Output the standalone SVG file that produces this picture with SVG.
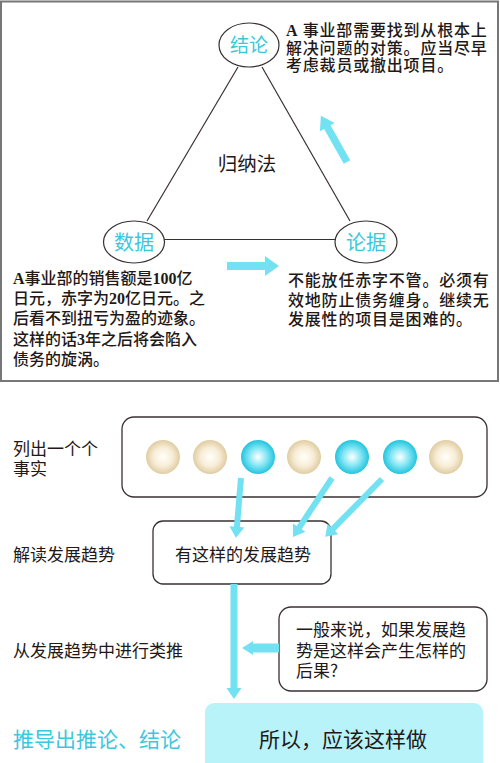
<svg xmlns="http://www.w3.org/2000/svg" width="500" height="763" viewBox="0 0 500 763">
<defs>
<radialGradient id="gBeige" cx="50%" cy="50%" r="50%">
<stop offset="0" stop-color="#fffffa"/>
<stop offset="0.55" stop-color="#f8eed8"/>
<stop offset="1" stop-color="#dfcca2"/>
</radialGradient>
<radialGradient id="gCyan" cx="50%" cy="50%" r="50%">
<stop offset="0" stop-color="#ffffff"/>
<stop offset="0.5" stop-color="#8ae8f6"/>
<stop offset="1" stop-color="#22c4de"/>
</radialGradient>
<style>
.t{font-family:"Noto Sans CJK SC","Noto Sans",sans-serif;fill:#231815}
.d{font-size:16px;font-weight:500}
.lb{font-size:17px}
.cy{fill:#3cc8dc}
.b{font-family:"Liberation Serif",serif;font-weight:bold}
.ell{fill:#fff;stroke:#3a3030;stroke-width:1.2}
.ln{stroke:#3a3030;stroke-width:1.2;fill:none}
.box{fill:#fff;stroke:#3a3030;stroke-width:1.3}
.arr{fill:#72e2f2}
</style>
</defs>
<rect x="1" y="1.5" width="497" height="379.5" fill="#fff" stroke="#777" stroke-width="2"/>

<g id="node-conclusion">
<ellipse class="ell" cx="249" cy="45" rx="30" ry="22"/>
<text class="t cy" x="249" y="52" font-size="19" text-anchor="middle">结论</text>
</g>
<g id="node-data">
<ellipse class="ell" cx="134" cy="242" rx="30.5" ry="21"/>
<text class="t cy" x="134" y="249.5" font-size="20" text-anchor="middle">数据</text>
</g>
<g id="node-argument">
<ellipse class="ell" cx="366" cy="242" rx="31" ry="21"/>
<text class="t cy" x="366" y="249.5" font-size="20" text-anchor="middle">论据</text>
</g>
<g id="label-induction">
<text class="t" x="247" y="171" font-size="19.5" text-anchor="middle">归纳法</text>
</g>
<g id="text-conclusion">
<text class="t d" x="286" letter-spacing="0.8">
<tspan x="286" y="36"><tspan class="b">A</tspan> 事业部需要找到从根本上</tspan>
<tspan x="286" y="53.5">解决问题的对策。应当尽早</tspan>
<tspan x="286" y="71">考虑裁员或撤出项目。</tspan>
</text>
</g>
<g id="text-data">
<text class="t d" x="13">
<tspan x="13" y="284"><tspan class="b">A</tspan>事业部的销售额是<tspan class="b">100</tspan>亿</tspan>
<tspan x="13" y="304.2">日元，赤字为<tspan class="b">20</tspan>亿日元。之</tspan>
<tspan x="13" y="324.4">后看不到扭亏为盈的迹象。</tspan>
<tspan x="13" y="344.6">这样的话<tspan class="b">3</tspan>年之后将会陷入</tspan>
<tspan x="13" y="364.8">债务的旋涡。</tspan>
</text>
</g>
<g id="text-argument">
<text class="t d" x="288" letter-spacing="0.8">
<tspan x="288" y="285.5">不能放任赤字不管。必须有</tspan>
<tspan x="288" y="305.5">效地防止债务缠身。继续无</tspan>
<tspan x="288" y="325">发展性的项目是困难的。</tspan>
</text>
</g>

<g id="label-facts">
<text class="t lb" x="13"><tspan x="13" y="454.5">列出一个个</tspan><tspan x="13" y="475">事实</tspan></text>
</g>
<g id="node-facts">
<rect class="box" x="122" y="417" width="365" height="80" rx="12"/>
<circle cx="163" cy="457" r="17" fill="url(#gBeige)"/>
<circle cx="210" cy="457" r="17" fill="url(#gBeige)"/>
<circle cx="258" cy="457" r="17" fill="url(#gCyan)"/>
<circle cx="304" cy="457" r="17" fill="url(#gBeige)"/>
<circle cx="352" cy="457" r="17" fill="url(#gCyan)"/>
<circle cx="400" cy="457" r="17" fill="url(#gCyan)"/>
<circle cx="446" cy="457" r="17" fill="url(#gBeige)"/>
</g>
<g id="label-trend">
<text class="t lb" x="13" y="560.5">解读发展趋势</text>
</g>
<g id="node-trend">
<rect class="box" x="153" y="521" width="178" height="63" rx="10"/>
<text class="t lb" x="243" y="560.5" text-anchor="middle">有这样的发展趋势</text>
</g>
<g id="label-analogy">
<text class="t lb" x="13" y="656.5">从发展趋势中进行类推</text>
</g>
<g id="node-question">
<rect class="box" x="279" y="607" width="208" height="84" rx="12"/>
<text class="t lb" x="296"><tspan x="296" y="636">一般来说，如果发展趋</tspan><tspan x="296" y="657">势是这样会产生怎样的</tspan><tspan x="296" y="677">后果?</tspan></text>
</g>
<g id="label-result">
<text class="t cy" x="13" y="746.5" font-size="21">推导出推论、结论</text>
</g>
<g id="node-result">
<rect x="205" y="703" width="278" height="80" rx="9" fill="#b8f3fa"/>
<text class="t" x="343" y="746.5" font-size="21" text-anchor="middle">所以，应该这样做</text>
</g>

<g id="connectors">
<line class="ln" x1="238" y1="67" x2="147" y2="221"/>
<line class="ln" x1="262" y1="67" x2="350" y2="221"/>
<line class="ln" x1="164" y1="239.5" x2="335" y2="239.5"/>
<polygon class="arr" points="227,262 265,262 265,256 279,266 265,276 265,270 227,270"/>
<g transform="translate(347,162) rotate(-119.5)"><polygon class="arr" points="0,-3.7 40,-3.7 40,-8.5 53,0 40,8.5 40,3.7 0,3.7"/></g>
<g transform="translate(241,478) rotate(94.8)"><polygon class="arr" points="0,-3 49,-3 49,-7.5 60,0 49,7.5 49,3 0,3"/></g>
<g transform="translate(332,478) rotate(123.5)"><polygon class="arr" points="0,-3 59.5,-3 59.5,-7.5 70.7,0 59.5,7.5 59.5,3 0,3"/></g>
<g transform="translate(382,479) rotate(134.5)"><polygon class="arr" points="0,-3 70,-3 70,-7.5 81,0 70,7.5 70,3 0,3"/></g>
<polygon class="arr" points="230.5,584 237.5,584 237.5,688 241.5,688 234,699 226.5,688 230.5,688"/>
<polygon class="arr" points="279,643.5 253,643.5 253,641 242,648 253,655 253,652.5 279,652.5"/>
</g>
</svg>
